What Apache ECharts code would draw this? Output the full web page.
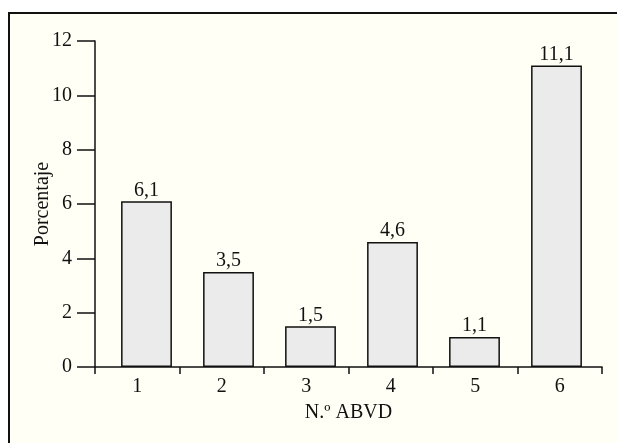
<!DOCTYPE html>
<html>
<head>
<meta charset="utf-8">
<script src="https://cdn.jsdelivr.net/npm/echarts@6/dist/echarts.min.js"></script>
<style>
html,body{margin:0;padding:0;background:#ffffff;}
#c{width:617px;height:443px;}
</style>
</head>
<body>
<div id="c"></div>
<script>
const categories = ['1', '2', '3', '4', '5', '6'];
const values = [6.1, 3.5, 1.5, 4.6, 1.1, 11.1];
const yTicks = [0, 2, 4, 6, 8, 10, 12];

const font = 'Liberation Serif';
const chart = echarts.init(document.getElementById('c'));
chart.setOption({
  backgroundColor: '#ffffff',
  animation: false,
  graphic: [{
    type: 'rect',
    z: -10,
    silent: true,
    shape: {x: 9, y: 13, width: 700, height: 500},
    style: {fill: '#fffff5', stroke: '#111', lineWidth: 2}
  }],
  grid: [
    {left: 95, top: 41, right: 15, bottom: 76},
    {left: 105.5, top: 41, right: 19.5, bottom: 76}
  ],
  xAxis: [{
    type: 'category',
    gridIndex: 0,
    data: categories,
    name: 'N.º ABVD',
    nameLocation: 'middle',
    nameGap: 36,
    nameMoveOverlap: false,
    nameTextStyle: {fontFamily: font, fontSize: 20, color: '#111', verticalAlign: 'top'},
    axisLine: {lineStyle: {color: '#111', width: 1.5}},
    axisTick: {show: true, length: 7, lineStyle: {color: '#111', width: 1.5}},
    axisLabel: {fontFamily: font, fontSize: 20, color: '#111', margin: 10},
    z: 5
  }, {
    type: 'category',
    gridIndex: 1,
    data: categories,
    show: false
  }],
  yAxis: [{
    type: 'value',
    gridIndex: 0,
    min: yTicks[0],
    max: yTicks[yTicks.length - 1],
    interval: 2,
    name: 'Porcentaje',
    nameLocation: 'middle',
    nameGap: 42,
    nameMoveOverlap: false,
    nameTextStyle: {fontFamily: font, fontSize: 20, color: '#111'},
    splitLine: {show: false},
    axisLine: {show: true, lineStyle: {color: '#111', width: 1.5}},
    axisTick: {show: true, length: 18, lineStyle: {color: '#111', width: 1.5}},
    axisLabel: {fontFamily: font, fontSize: 20, color: '#111', margin: 23}
  }, {
    type: 'value',
    gridIndex: 1,
    min: yTicks[0],
    max: yTicks[yTicks.length - 1],
    interval: 2,
    show: false
  }],
  series: [{
    type: 'bar',
    xAxisIndex: 1,
    yAxisIndex: 1,
    data: values,
    barWidth: '62%',
    itemStyle: {color: '#ebebeb', borderColor: '#111', borderWidth: 1.5},
    label: {
      show: true,
      position: 'top',
      distance: 1,
      fontFamily: font,
      fontSize: 20,
      color: '#111',
      formatter: p => String(p.value).replace('.', ',')
    }
  }]
});
</script>
</body>
</html>
